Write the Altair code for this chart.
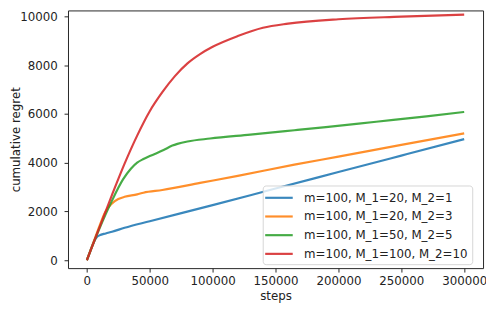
import altair as alt
import pandas as pd

series = [
    "m=100, M_1=20, M_2=1",
    "m=100, M_1=20, M_2=3",
    "m=100, M_1=50, M_2=5",
    "m=100, M_1=100, M_2=10",
]
colors = ["#1f77b4", "#ff7f0e", "#2ca02c", "#d62728"]
widths = [2.2, 2.2, 2.2, 1.5]

blue_steps = [0, 2000, 4000, 6000, 8000, 10000, 15000, 20000, 30000, 50000,
              100000, 150000, 200000, 250000, 300000]
blue_regret = [0, 280, 560, 800, 950, 1020, 1100, 1170, 1330, 1600,
               2260, 2940, 3615, 4290, 4965]

orange_steps = [0, 5000, 10000, 14500, 20000, 25000, 30000, 40000, 45000,
                60000, 90000, 120000, 165000, 200000, 250000, 300000]
orange_regret = [0, 700, 1400, 1970, 2330, 2510, 2600, 2700, 2770,
                 2880, 3170, 3460, 3920, 4250, 4730, 5200]

green_steps = [0, 10000, 20000, 28750, 35000, 40000, 45000, 50000, 55000,
               61000, 68000, 72000, 80000, 98000, 130000, 165000, 190000,
               230000, 270000, 300000]
green_regret = [0, 1300, 2450, 3315, 3750, 4000, 4150, 4270, 4380,
                4520, 4700, 4770, 4870, 4990, 5150, 5330, 5460,
                5680, 5900, 6080]

red_steps = [0, 10000, 20000, 30000, 40000, 50000, 60000, 70000, 80000,
             90000, 100000, 120000, 140000, 160000, 200000, 250000, 300000]
red_regret = [0, 1340, 2680, 3960, 5110, 6110, 6890, 7550, 8070,
              8450, 8750, 9190, 9530, 9700, 9880, 9985, 10070]

x_ticks = [0, 50000, 100000, 150000, 200000, 250000, 300000]
y_ticks = [0, 2000, 4000, 6000, 8000, 10000]

rows = []
for name, xs, ys in zip(series,
                        [blue_steps, orange_steps, green_steps, red_steps],
                        [blue_regret, orange_regret, green_regret, red_regret]):
    for i, (sx, sy) in enumerate(zip(xs, ys)):
        rows.append({"series": name, "steps": sx, "regret": sy, "idx": i})
df = pd.DataFrame(rows)

FONT = "DejaVu Sans"

legend = alt.Legend(
    orient="none",
    legendX=198,
    legendY=178,
    title=None,
    symbolType="M-2,0H2",
    symbolSize=196,
    symbolOffset=4,
    labelOffset=17,
    padding=4,
    rowPadding=4,
    strokeColor="#d5d5d5",
    fillColor="rgba(255,255,255,0.8)",
    cornerRadius=3,
    labelFont=FONT,
    labelFontSize=12,
    labelColor="#222222",
    labelLimit=400,
)

chart = (
    alt.Chart(df)
    .mark_line(interpolate="monotone", opacity=0.88, clip=True)
    .encode(
        x=alt.X(
            "steps:Q",
            scale=alt.Scale(domain=[-15000, 315000], nice=False, zero=False),
            axis=alt.Axis(values=x_ticks, format="d", title="steps",
                          labelPadding=3.5, titlePadding=4),
        ),
        y=alt.Y(
            "regret:Q",
            scale=alt.Scale(domain=[-323, 10242], nice=False, zero=False),
            axis=alt.Axis(values=y_ticks, format="d", title="cumulative regret",
                          labelPadding=7, titleX=-46, titleY=131),
        ),
        color=alt.Color("series:N", scale=alt.Scale(domain=series, range=colors),
                        legend=legend),
        strokeWidth=alt.StrokeWidth("series:N",
                                    scale=alt.Scale(domain=series, range=widths)),
        order=alt.Order("idx:Q"),
    )
    .properties(
        width=422,
        height=262,
        padding={"left": 61, "top": 0, "right": 3, "bottom": 34},
        autosize=alt.AutoSizeParams(type="none"),
    )
    .configure_view(stroke="#262626", strokeWidth=1)
    .configure_axis(
        grid=False,
        domain=False,
        tickColor="#262626",
        tickSize=4,
        tickWidth=1,
        labelFont=FONT,
        labelFontSize=12,
        labelColor="#222222",
        titleFont=FONT,
        titleFontSize=12,
        titleFontWeight="normal",
        titleColor="#222222",
    )
)

chart.save("out.html", embed_options={"renderer": "svg", "actions": False})
